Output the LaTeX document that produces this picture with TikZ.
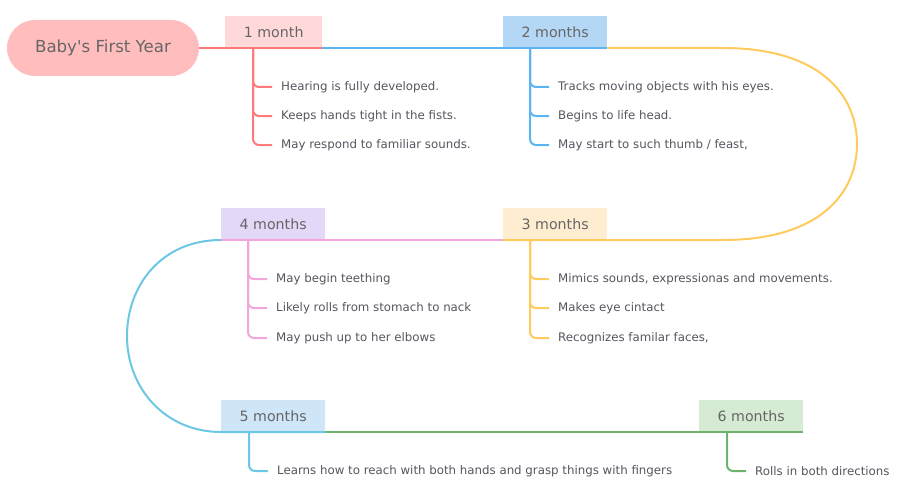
\documentclass[tikz,border=0pt]{standalone}
\usepackage{fontspec}
\setmainfont{DejaVu Sans}
\usetikzlibrary{positioning, calc}

\definecolor{textgray}{HTML}{666666}
\definecolor{itemgray}{HTML}{55555F}
\definecolor{rootfill}{HTML}{FFBDBD}
\definecolor{lineA}{HTML}{FF7B7B}
\definecolor{boxA}{HTML}{FFD9D9}
\definecolor{lineB}{HTML}{5CB5F2}
\definecolor{boxB}{HTML}{B3D7F5}
\definecolor{lineC}{HTML}{FFCB5C}
\definecolor{boxC}{HTML}{FFEDD1}
\definecolor{lineD}{HTML}{F2A6DC}
\definecolor{boxD}{HTML}{E3D8F7}
\definecolor{lineE}{HTML}{6BC7E3}
\definecolor{boxE}{HTML}{CFE5F8}
\definecolor{lineF}{HTML}{6DB36D}
\definecolor{boxF}{HTML}{D5EBD3}

\begin{document}
\begin{tikzpicture}[x=1pt, y=-1pt]
        \tikzstyle{rootbox} = [rectangle, rounded corners=28pt, minimum width=192pt, minimum height=56pt, fill=rootfill, text=textgray, font=\fontsize{16.6}{20}\selectfont]
        \tikzstyle{monthbox} = [rectangle, anchor=south west, minimum width=104pt, minimum height=32pt, inner sep=0pt, text=textgray, font=\fontsize{14.2}{17}\selectfont]
        \tikzstyle{item} = [anchor=west, inner xsep=9pt, inner ysep=0pt, text=itemgray, font=\fontsize{11.8}{14}\selectfont]
        \tikzstyle{spine} = [line width=2pt]
        \tikzstyle{branch} = [line width=2pt, rounded corners=6pt]

        \useasboundingbox (0,0) rectangle (900,495);

        \node (root) [rootbox] at (103,48) {Baby\textquotesingle s First Year};
        \node (m1) [monthbox, fill=boxA, minimum width=97pt] at (225,48) {1 month};
        \node (m2) [monthbox, fill=boxB] at (503,48) {2 months};
        \node (m3) [monthbox, fill=boxC] at (503,240) {3 months};
        \node (m4) [monthbox, fill=boxD] at (221,240) {4 months};
        \node (m5) [monthbox, fill=boxE] at (221,432) {5 months};
        \node (m6) [monthbox, fill=boxF] at (699,432) {6 months};

        \coordinate (rtop) at (723,48);
        \coordinate (rmid) at (857,144);
        \coordinate (rbot) at (723,240);
        \coordinate (lmid) at (127,336);

        % timeline
        \draw [spine, lineA] (root.east) -- (m1.south east);
        \draw [spine, lineB] (m1.south east) -- (m2.south east);
        \draw [spine, lineC] (m2.south east) -- (rtop) .. controls +(97,0) and +(0,-49) .. (rmid) .. controls +(0,49) and +(97,0) .. (rbot) -- (m3.south west);
        \draw [spine, lineD] (m3.south west) -- (m4.south west);
        \draw [spine, lineE] (m4.south west) .. controls +(-60,0) and +(0,-50) .. (lmid) .. controls +(0,52) and +(-56,0) .. (m5.south west) -- (m5.south east);
        \draw [spine, lineF] (m5.south east) -- (m6.south east);

        \coordinate (b1) at ($(m1.south west)+(28,0)$);
        \coordinate (b2) at ($(m2.south west)+(27,0)$);
        \coordinate (b3) at ($(m3.south west)+(27,0)$);
        \coordinate (b4) at ($(m4.south west)+(27,0)$);
        \coordinate (b5) at ($(m5.south west)+(28,0)$);
        \coordinate (b6) at ($(m6.south west)+(28,0)$);

        \node (i1a) [item] at ($(b1)+(19,39)$) {Hearing is fully developed.};
        \node (i1b) [item] at ($(b1)+(19,68)$) {Keeps hands tight in the fists.};
        \node (i1c) [item] at ($(b1)+(19,97)$) {May respond to familiar sounds.};
        \node (i2a) [item] at ($(b2)+(19,39)$) {Tracks moving objects with his eyes.};
        \node (i2b) [item] at ($(b2)+(19,68)$) {Begins to life head.};
        \node (i2c) [item] at ($(b2)+(19,97)$) {May start to such thumb / feast,};
        \node (i3a) [item] at ($(b3)+(19,39)$) {Mimics sounds, expressionas and movements.};
        \node (i3b) [item] at ($(b3)+(19,68)$) {Makes eye cintact};
        \node (i3c) [item] at ($(b3)+(19,98)$) {Recognizes familar faces,};
        \node (i4a) [item] at ($(b4)+(19,39)$) {May begin teething};
        \node (i4b) [item] at ($(b4)+(19,68)$) {Likely rolls from stomach to nack};
        \node (i4c) [item] at ($(b4)+(19,98)$) {May push up to her elbows};
        \node (i5a) [item] at ($(b5)+(19,39)$) {Learns how to reach with both hands and grasp things with fingers};
        \node (i6a) [item] at ($(b6)+(19,39)$) {Rolls in both directions};

        % branches
        \draw [branch, lineA] (b1) |- (i1a.west);
        \draw [branch, lineA] (b1) |- (i1b.west);
        \draw [branch, lineA] (b1) |- (i1c.west);
        \draw [branch, lineB] (b2) |- (i2a.west);
        \draw [branch, lineB] (b2) |- (i2b.west);
        \draw [branch, lineB] (b2) |- (i2c.west);
        \draw [branch, lineC] (b3) |- (i3a.west);
        \draw [branch, lineC] (b3) |- (i3b.west);
        \draw [branch, lineC] (b3) |- (i3c.west);
        \draw [branch, lineD] (b4) |- (i4a.west);
        \draw [branch, lineD] (b4) |- (i4b.west);
        \draw [branch, lineD] (b4) |- (i4c.west);
        \draw [branch, lineE] (b5) |- (i5a.west);
        \draw [branch, lineF] (b6) |- (i6a.west);
    \end{tikzpicture}
\end{document}
